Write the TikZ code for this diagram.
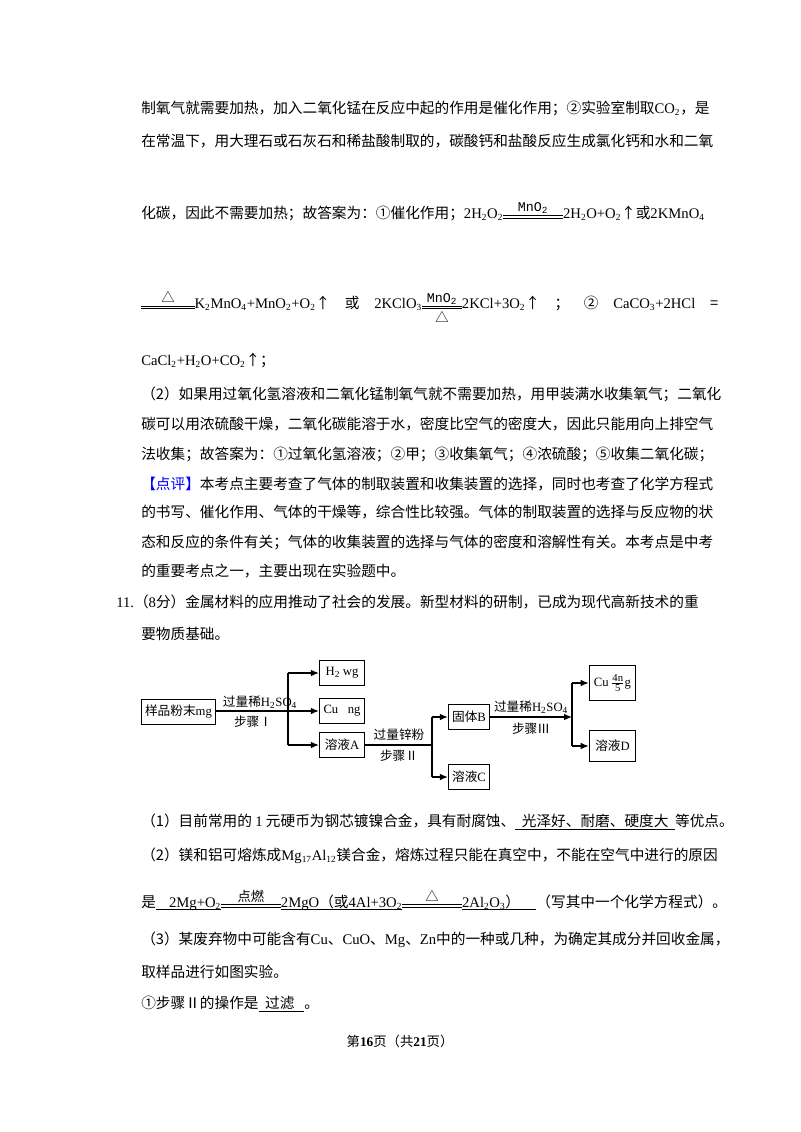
\documentclass[tikz,border=0pt]{standalone}
\usepackage{fontspec}
\usepackage{amsmath}
\usetikzlibrary{arrows.meta}
\setmainfont{Noto Sans CJK SC}
\newfontfamily\lat{Liberation Serif}
\newfontfamily\mono{Liberation Mono}
\newcommand\rxn[3]{$\mathrel{\mathop{\vbox{\hrule width #1 height .5pt\vskip1.3pt\hrule width #1 height .5pt}}\limits^{\hbox{\fontsize{10}{10}\selectfont #2}}_{\hbox{\fontsize{10}{10}\selectfont #3}}}$}
\newcommand\ch[1]{{\lat #1}}
\newcommand\dn[1]{\ensuremath{_{\text{\lat\fontsize{7}{7}\selectfont #1}}}}
\newcommand\mno{{\mono MnO\ensuremath{_{\text{\mono 2}}}}}
\newcommand\ul[1]{\underline{\smash{#1}}}
\begin{document}
\begin{tikzpicture}[x=0.75pt,y=-0.75pt,
  t/.style={anchor=west,inner sep=0pt,font=\fontsize{11}{13}\selectfont},
  box/.style={draw,thick,inner sep=2pt,minimum height=19pt,font=\fontsize{9.5}{11}\selectfont},
  lab/.style={inner sep=0pt,font=\fontsize{9.5}{11}\selectfont},
  arr/.style={-{Latex[length=6pt,width=5pt]},thick}]
\useasboundingbox (0,0) rectangle (800,1132);
\fill[white] (0,0) rectangle (800,1132);
\node[t] (l1) at (141,108) {制氧气就需要加热，加入二氧化锰在反应中起的作用是催化作用；②实验室制取\ch{CO}\dn{2}，是};
\node[t] (l2) at (141,141) {在常温下，用大理石或石灰石和稀盐酸制取的，碳酸钙和盐酸反应生成氯化钙和水和二氧};
\node[t] (l3) at (141,215) {化碳，因此不需要加热；故答案为：①催化作用；\ch{2H}\dn{2}\ch{O}\dn{2}\rxn{45pt}{\mno}{}\ch{2H}\dn{2}\ch{O+O}\dn{2}↑或\ch{2KMnO}\dn{4}};
\node[t] (l4) at (141,307) {\rxn{40pt}{△}{}\ch{K}\dn{2}\ch{MnO}\dn{4}\ch{+MnO}\dn{2}\ch{+O}\dn{2}↑\quad 或\quad \ch{2KClO}\dn{3}\rxn{30pt}{\mno}{△}\ch{2KCl+3O}\dn{2}↑\quad ；\quad ②\quad \ch{CaCO}\dn{3}\ch{+2HCl}\quad =};
\node[t] (l5) at (141,360) {\ch{CaCl}\dn{2}\ch{+H}\dn{2}\ch{O+CO}\dn{2}↑；};
\node[t] (l6) at (141,394) {（2）如果用过氧化氢溶液和二氧化锰制氧气就不需要加热，用甲装满水收集氧气；二氧化};
\node[t] (l7) at (141,424) {碳可以用浓硫酸干燥，二氧化碳能溶于水，密度比空气的密度大，因此只能用向上排空气};
\node[t] (l8) at (141,454) {法收集；故答案为：①过氧化氢溶液；②甲；③收集氧气；④浓硫酸；⑤收集二氧化碳；};
\node[t] (l9) at (141,484) {\textcolor{blue}{【点评】}本考点主要考查了气体的制取装置和收集装置的选择，同时也考查了化学方程式};
\node[t] (l10) at (141,512) {的书写、催化作用、气体的干燥等，综合性比较强。气体的制取装置的选择与反应物的状};
\node[t] (l11) at (141,542) {态和反应的条件有关；气体的收集装置的选择与气体的密度和溶解性有关。本考点是中考};
\node[t] (l12) at (141,571) {的重要考点之一，主要出现在实验题中。};
\node[t] (l13) at (116,602) {\ch{11.}（\ch{8}分）金属材料的应用推动了社会的发展。新型材料的研制，已成为现代高新技术的重};
\node[t] (l14) at (141,634) {要物质基础。};
% flowchart
\node[box,minimum width=55pt] (s) at (178.5,712) {样品粉末\ch{mg}};
\node[box,minimum width=34pt] (h) at (342,673) {\ch{H}\dn{2}\ \ch{wg}};
\node[box,minimum width=34pt] (cu) at (342,711) {\ch{Cu\ \ \ ng}};
\node[box,minimum width=34pt] (a) at (342,745) {溶液\ch{A}};
\node[box,minimum width=31pt] (b) at (469,717) {固体\ch{B}};
\node[box,minimum width=31pt] (c) at (469,777) {溶液\ch{C}};
\node[box,minimum width=35pt,minimum height=26pt] (cu2) at (612.5,683) {\ch{Cu}\,$\frac{\text{\ch{\fontsize{8}{8}\selectfont 4n}}}{\text{\ch{\fontsize{8}{8}\selectfont 5}}}$\ch{g}};
\node[box,minimum width=35pt,minimum height=23pt] (d) at (612.5,746) {溶液\ch{D}};
\coordinate (j1) at (288,711);
\coordinate (j2) at (432,745);
\coordinate (j3) at (572,717);
\draw[thick] (s.east|-j1) -- (j1);
\draw[thick] (j1|-h) -- (j1|-a);
\draw[arr] (j1|-h) -- (h.west);
\draw[arr] (j1) -- (cu.west);
\draw[arr] (j1|-a) -- (a.west);
\draw[thick] (a.east) -- (j2);
\draw[thick] (j2|-b) -- (j2|-c);
\draw[arr] (j2|-b) -- (b.west);
\draw[arr] (j2|-c) -- (c.west);
\draw[arr] (b.east) -- (j3);
\draw[thick] (j3|-cu2) -- (j3|-d);
\draw[arr] (j3|-cu2) -- (cu2.west);
\draw[arr] (j3|-d) -- (d.west);
\node[lab] (q1) at (260,702) {过量稀\ch{H}\dn{2}\ch{SO}\dn{4}};
\node[lab] (q2) at (253,722) {步骤Ⅰ};
\node[lab] (q3) at (399,735) {过量锌粉};
\node[lab] (q4) at (399,756) {步骤Ⅱ};
\node[lab] (q5) at (531,707) {过量稀\ch{H}\dn{2}\ch{SO}\dn{4}};
\node[lab] (q6) at (531,729) {步骤Ⅲ};
% questions
\node[t] (m1) at (141,822) {（1）目前常用的 \ch{1} 元硬币为钢芯镀镍合金，具有耐腐蚀、\ul{\ \ 光泽好、耐磨、硬度大\ \ }等优点。};
\node[t] (m2) at (141,856) {（2）镁和铝可熔炼成\ch{Mg}\dn{17}\ch{Al}\dn{12}镁合金，熔炼过程只能在真空中，不能在空气中进行的原因};
\node[t] (m3) at (141,903) {是\ul{\ \ \ \ \ch{2Mg+O}\dn{2}}\rxn{45pt}{点燃}{}\ul{\ch{2MgO}（或\ch{4Al+3O}\dn{2}}\rxn{45pt}{△}{}\ul{\ch{2Al}\dn{2}\ch{O}\dn{3}）\ \ \ \ \ }（写其中一个化学方程式）。};
\node[t] (m4) at (141,940) {（3）某废弃物中可能含有\ch{Cu}、\ch{CuO}、\ch{Mg}、\ch{Zn}中的一种或几种，为确定其成分并回收金属，};
\node[t] (m5) at (141,972) {取样品进行如图实验。};
\node[t] (m6) at (141,1004) {①步骤Ⅱ的操作是\ul{\ \ 过滤\ \ \ }。};
\node[inner sep=0pt,font=\fontsize{10}{12}\selectfont] (ft) at (400,1041) {第\textbf{\ch{16}}页（共\textbf{\ch{21}}页）};
\end{tikzpicture}
\end{document}
